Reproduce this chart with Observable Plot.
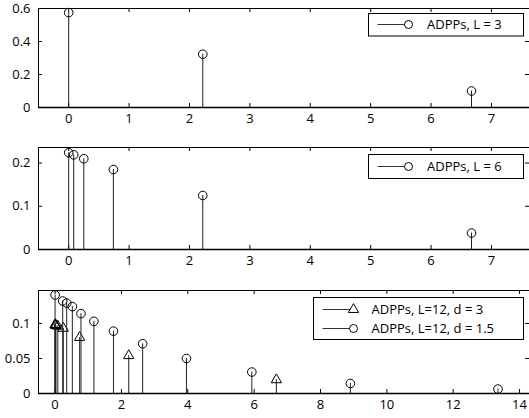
<!DOCTYPE html>
<html>
<head>
<meta charset="utf-8">
<script src="https://cdn.jsdelivr.net/npm/d3@7"></script>
<script src="https://cdn.jsdelivr.net/npm/@observablehq/plot@0.6"></script>
<style>
  html, body { margin: 0; padding: 0; background: #fff; }
  #chart { width: 529px; height: 418px; overflow: hidden; }
  #chart svg { display: block; }
</style>
</head>
<body>
<div id="chart"></div>
<script>
// ---- data ----
const p1X = [0, 2.22, 6.67];
const p1Y = [0.575, 0.323, 0.1];

const p2X = [0, 0.083, 0.25, 0.74, 2.22, 6.67];
const p2Y = [0.224, 0.219, 0.21, 0.185, 0.125, 0.038];

const p3CircX = [0, 0.23, 0.35, 0.52, 0.78, 1.17, 1.76, 2.64, 3.96, 5.93, 8.9, 13.35];
const p3CircY = [0.1406, 0.132, 0.129, 0.124, 0.114, 0.103, 0.089, 0.071, 0.050, 0.0306, 0.0143, 0.0063];

const p3TriX = [0, 0.003, 0.009, 0.027, 0.082, 0.247, 0.74, 2.22, 6.67];
const p3TriY = [0.098, 0.098, 0.098, 0.097, 0.096, 0.093, 0.08, 0.054, 0.0196];

const xTicks12 = [0, 1, 2, 3, 4, 5, 6, 7];
const xTicks3 = [0, 2, 4, 6, 8, 10, 12, 14];
const yTicks1 = [0, 0.2, 0.4, 0.6];
const yTicks2 = [0, 0.1, 0.2];
const yTicks3 = [0, 0.05, 0.1];

const legend1 = ["ADPPs, L = 3"];
const legend2 = ["ADPPs, L = 6"];
const legend3 = ["ADPPs, L=12, d = 3", "ADPPs, L=12, d = 1.5"];

// ---- helpers ----
const FONT = "'Open Sans', sans-serif";
const W = 529;
const zip = (xs, ys) => xs.map((x, i) => ({x, y: ys[i]}));

function panel({height, mt, mb, xDomain, yDomain, xTicks, yTicks, series}) {
  const innerH = height - mt - mb;
  const innerW = W - 38;
  const marks = [
    Plot.ruleX([xDomain[0]], {stroke: "#000", strokeWidth: 1}),
    Plot.ruleY([yDomain[1]], {stroke: "#000", strokeWidth: 1}),
    Plot.ruleX(xTicks, {x: d => d, insetTop: innerH - 4, stroke: "#000"}),
    Plot.ruleX(xTicks, {x: d => d, insetBottom: innerH - 4, stroke: "#000"}),
    Plot.ruleY(yTicks, {y: d => d, insetRight: innerW - 4, stroke: "#000"}),
    Plot.ruleY(yTicks, {y: d => d, insetLeft: innerW - 4, stroke: "#000"}),
    Plot.axisX({ticks: xTicks, tickSize: 0, tickPadding: 6, tickFormat: d => String(d), label: null, fontSize: 13}),
    Plot.axisY({ticks: yTicks, tickSize: 0, tickPadding: 8, tickFormat: d => String(d), label: null, fontSize: 13})
  ];
  for (const s of series) {
    const data = zip(s.x, s.y);
    marks.push(Plot.ruleX(data, {x: "x", y1: 0, y2: "y", stroke: "#222", strokeWidth: 1}));
    marks.push(Plot.dot(data, {x: "x", y: "y", symbol: s.symbol, r: s.r, stroke: "#000", strokeWidth: 1, fill: "none"}));
  }
  marks.push(Plot.ruleY([0], {stroke: "#000", strokeWidth: 1.6}));
  return Plot.plot({
    width: W, height,
    marginLeft: 38, marginRight: 0, marginTop: mt, marginBottom: mb,
    style: {fontFamily: FONT, fontSize: "13px", color: "#000", background: "#fff", overflow: "visible"},
    x: {domain: xDomain},
    y: {domain: yDomain},
    marks
  });
}

function addLegend(svg, {x, y, w, h, rows}) {
  const g = d3.select(svg).append("g").attr("font-family", FONT).attr("font-size", 13)
    .attr("text-anchor", "start");
  g.append("rect").attr("x", x).attr("y", y).attr("width", w).attr("height", h)
    .attr("fill", "#fff").attr("stroke", "#000").attr("stroke-width", 1);
  for (const r of rows) {
    g.append("line").attr("x1", x + 9).attr("x2", r.mx).attr("y1", r.y).attr("y2", r.y)
      .attr("stroke", "#333").attr("stroke-width", 1);
    if (r.symbol === "circle") {
      g.append("circle").attr("cx", r.mx).attr("cy", r.y).attr("r", 4)
        .attr("fill", "#fff").attr("stroke", "#000");
    } else {
      g.append("path").attr("d", d3.symbol(d3.symbolTriangle, 3.8 * 3.8 * Math.PI)())
        .attr("transform", `translate(${r.mx},${r.y})`)
        .attr("fill", "#fff").attr("stroke", "#000");
    }
    g.append("text").attr("x", r.tx).attr("y", r.y).attr("dy", "0.35em")
      .attr("text-anchor", "start").attr("fill", "#000").text(r.label);
  }
}

const chart = document.getElementById("chart");

const f1 = panel({
  height: 130, mt: 8, mb: 23,
  xDomain: [-0.5, 7.63], yDomain: [0, 0.6],
  xTicks: xTicks12, yTicks: yTicks1,
  series: [{x: p1X, y: p1Y, symbol: "circle", r: 4.3}]
});
addLegend(f1, {x: 368.5, y: 13.5, w: 155, h: 22.5,
  rows: [{y: 24.5, mx: 408.5, tx: 427, symbol: "circle", label: legend1[0]}]});
chart.appendChild(f1);

const f2 = panel({
  height: 140, mt: 17, mb: 21,
  xDomain: [-0.5, 7.63], yDomain: [0, 0.236],
  xTicks: xTicks12, yTicks: yTicks2,
  series: [{x: p2X, y: p2Y, symbol: "circle", r: 4.3}]
});
addLegend(f2, {x: 368.5, y: 24.5, w: 155, h: 24,
  rows: [{y: 36.5, mx: 408.5, tx: 427, symbol: "circle", label: legend2[0]}]});
chart.appendChild(f2);

const f3 = panel({
  height: 148, mt: 20, mb: 25,
  xDomain: [-0.5, 14.3], yDomain: [0, 0.147],
  xTicks: xTicks3, yTicks: yTicks3,
  series: [
    {x: p3TriX, y: p3TriY, symbol: "triangle", r: 3.8},
    {x: p3CircX, y: p3CircY, symbol: "circle", r: 4.3}
  ]
});
addLegend(f3, {x: 313.5, y: 27.5, w: 210, h: 42,
  rows: [
    {y: 39.5, mx: 353.5, tx: 371.5, symbol: "triangle", label: legend3[0]},
    {y: 58.5, mx: 353.5, tx: 371.5, symbol: "circle", label: legend3[1]}
  ]});
chart.appendChild(f3);
</script>
</body>
</html>
